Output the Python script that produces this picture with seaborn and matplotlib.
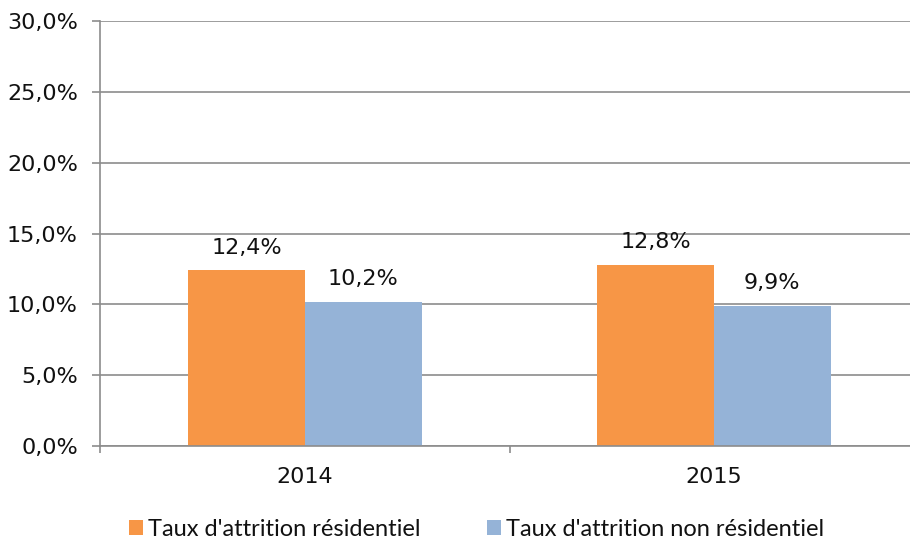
import matplotlib
matplotlib.use("Agg")
import matplotlib.pyplot as plt
import seaborn as sns
import pandas as pd
from matplotlib.ticker import FuncFormatter, FixedLocator
from matplotlib.patches import Patch

years = ["2014", "2015"]
series = ["Taux d'attrition résidentiel", "Taux d'attrition non résidentiel"]
residentiel = [12.4, 12.8]
non_residentiel = [10.2, 9.9]
colors = ["#F79646", "#95B3D7"]

df = pd.DataFrame({
    "year": years * 2,
    "serie": [series[0]] * 2 + [series[1]] * 2,
    "value": residentiel + non_residentiel,
})

sns.set_theme(style="white")
plt.rcParams["font.family"] = ["DejaVu Sans"]

grid_c = "#8C8C8C"
txt_c = "#111111"
fig = plt.figure(figsize=(9.1, 5.39), dpi=100)
ax = fig.add_axes([100 / 910, 93 / 539, 1 - 100 / 910, 425 / 539])

sns.barplot(data=df, x="year", y="value", hue="serie", order=years,
            hue_order=series, palette=colors, width=0.57, saturation=1,
            ax=ax, legend=False, linewidth=0, zorder=2)

for cont in ax.containers:
    labels = [f"{b.get_height():.1f}%".replace(".", ",") for b in cont]
    ax.bar_label(cont, labels=labels, padding=9, fontsize=16, color=txt_c)

ax.set_ylim(0, 30)
ax.set_xlim(-0.501, 1.479)
ax.yaxis.set_major_locator(FixedLocator([0, 5, 10, 15, 20, 25, 30]))
ax.yaxis.set_major_formatter(FuncFormatter(lambda v, p: f"{v:.1f}%".replace(".", ",")))
ax.grid(axis="y", color=grid_c, linewidth=1.2, zorder=0)
ax.set_axisbelow(True)
ax.set_xlabel("")
ax.set_ylabel("")

for s in ["top", "right"]:
    ax.spines[s].set_visible(False)
for s in ["left", "bottom"]:
    ax.spines[s].set_color(grid_c)
    ax.spines[s].set_linewidth(1.2)

ax.tick_params(axis="y", which="major", length=6, width=1.2, color=grid_c,
               pad=10, labelsize=16, labelcolor=txt_c, left=True)
ax.tick_params(axis="x", which="major", length=0, pad=15, labelsize=16,
               labelcolor=txt_c)
ax.xaxis.set_minor_locator(FixedLocator([-0.501, 0.5]))
ax.tick_params(axis="x", which="minor", length=5, width=1.2, color=grid_c,
               bottom=True)

handles = [Patch(facecolor=c, edgecolor="none") for c in colors]
fig.legend(handles, series, loc="center", bbox_to_anchor=(0.5236, 0.018),
           ncol=2, frameon=False, handlelength=0.6,
           handleheight=0.6, handletextpad=0.2, columnspacing=2.8,
           labelcolor=txt_c, prop={"family": ["Lato", "DejaVu Sans"], "size": 17})

fig.savefig("out.png", dpi=100)
